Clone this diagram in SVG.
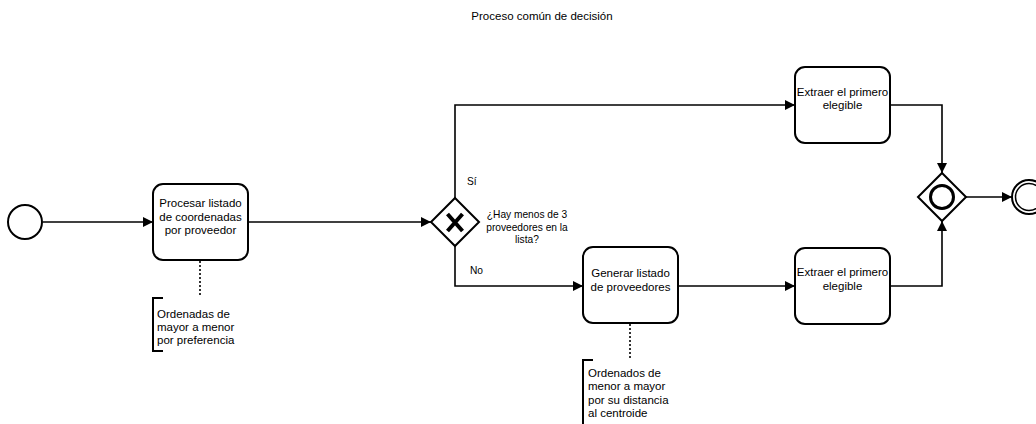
<svg xmlns="http://www.w3.org/2000/svg" width="1036" height="424" viewBox="0 0 1036 424">
<style>
text{font-family:"Liberation Sans",Arial,sans-serif;font-size:11.5px;fill:#000}
.c{text-anchor:middle}
.s{font-size:10.2px}
.task{fill:#fff;stroke:#000;stroke-width:2}
.ev{fill:#fff;stroke:#000;stroke-width:2}
.edge{fill:none;stroke:#000;stroke-width:1.6}
.dot{fill:none;stroke:#000;stroke-width:1.6;stroke-dasharray:2 2}
.br{fill:none;stroke:#000;stroke-width:2}
</style>
<defs>
<marker id="arr" viewBox="0 0 10 10" refX="10" refY="5" markerWidth="10" markerHeight="10" markerUnits="userSpaceOnUse" orient="auto">
<path d="M0,0 L10,5 L0,10 z" fill="#000"/>
</marker>
</defs>
<rect width="1036" height="424" fill="#fff"/>
<text class="c" x="542" y="20">Proceso común de decisión</text>
<g id="connectors">
<path class="edge" d="M43,222 H153" marker-end="url(#arr)"/>
<path class="edge" d="M248,222 H431" marker-end="url(#arr)"/>
<path class="edge" d="M455,198 V105 H795" marker-end="url(#arr)"/>
<path class="edge" d="M455,246 V286 H583" marker-end="url(#arr)"/>
<path class="edge" d="M678,286 H795" marker-end="url(#arr)"/>
<path class="edge" d="M890,105 H942 V173" marker-end="url(#arr)"/>
<path class="edge" d="M890,286 H942 V221" marker-end="url(#arr)"/>
<path class="edge" d="M966,197 H1012" marker-end="url(#arr)"/>
<path class="dot" d="M200,261 V297"/>
<path class="dot" d="M630,324 V360"/>
<text class="s" x="467" y="185">Sí</text>
<text class="s" x="470" y="274">No</text>
</g>
<g id="start"><circle class="ev" cx="25" cy="222" r="17"/></g>
<g id="task1">
<rect class="task" x="153" y="184" width="95" height="76" rx="10"/>
<text class="c" x="200.5" y="207">Procesar listado</text>
<text class="c" x="200.5" y="220.5">de coordenadas</text>
<text class="c" x="200.5" y="234">por proveedor</text>
</g>
<g id="note1">
<path class="br" d="M163,298 H153 V351 H163"/>
<text x="157" y="318">Ordenadas de</text>
<text x="157" y="331">mayor a menor</text>
<text x="157" y="344">por preferencia</text>
</g>
<g id="gateway1">
<path class="ev" d="M455,198 L479,222 L455,246 L431,222 z"/>
<path d="M447.5,214 L462.5,231 M462.5,214 L447.5,231" stroke="#000" stroke-width="4" fill="none"/>
<text class="c s" x="527" y="218">¿Hay menos de 3</text>
<text class="c s" x="527" y="231">proveedores en la</text>
<text class="c s" x="527" y="243">lista?</text>
</g>
<g id="task2">
<rect class="task" x="795" y="67" width="95" height="76" rx="10"/>
<text class="c" x="842.5" y="96">Extraer el primero</text>
<text class="c" x="842.5" y="109">elegible</text>
</g>
<g id="task3">
<rect class="task" x="583" y="247" width="95" height="76" rx="10"/>
<text class="c" x="630.5" y="277">Generar listado</text>
<text class="c" x="630.5" y="291">de proveedores</text>
</g>
<g id="note2">
<path class="br" d="M593,360 H583 V430"/>
<text x="588" y="377">Ordenados de</text>
<text x="588" y="390">menor a mayor</text>
<text x="588" y="404">por su distancia</text>
<text x="588" y="417">al centroide</text>
</g>
<g id="task4">
<rect class="task" x="795" y="248" width="95" height="76" rx="10"/>
<text class="c" x="842.5" y="276">Extraer el primero</text>
<text class="c" x="842.5" y="290">elegible</text>
</g>
<g id="gateway2">
<path class="ev" d="M942,173 L966,197 L942,221 L918,197 z"/>
<circle cx="942" cy="197" r="11.5" fill="none" stroke="#000" stroke-width="3"/>
</g>
<g id="end">
<circle class="ev" cx="1029" cy="197" r="17" stroke-width="1.5"/>
<circle cx="1029" cy="197" r="13.5" fill="none" stroke="#000" stroke-width="1.5"/>
</g>
</svg>
